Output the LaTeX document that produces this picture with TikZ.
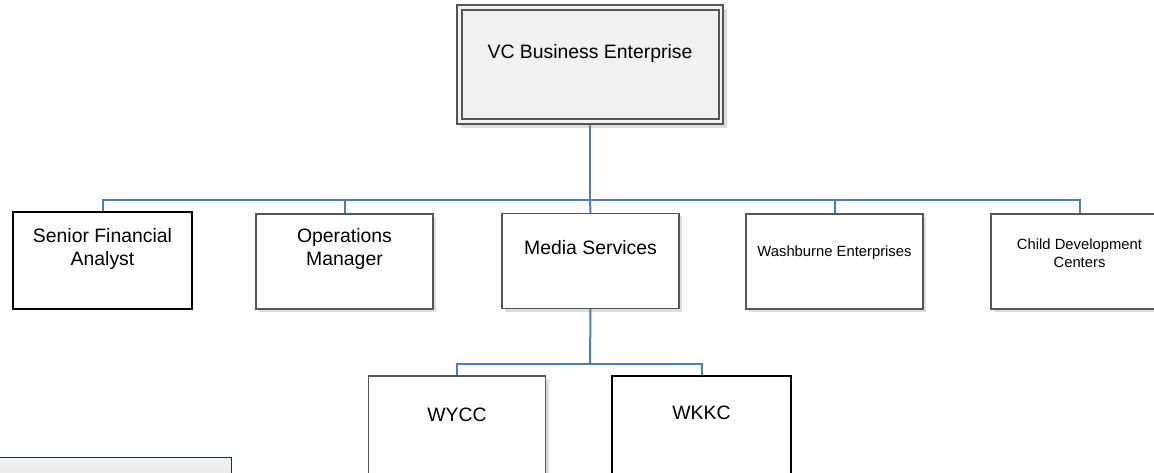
\documentclass[tikz,border=0pt]{standalone}
\usepackage{fontspec}
\setmainfont{Liberation Sans}
\usetikzlibrary{calc}
\definecolor{linkblue}{HTML}{4A7EBB}
\definecolor{boxgray}{HTML}{555555}
\definecolor{shadowgray}{HTML}{DDDDDD}
\definecolor{topfill}{HTML}{F1F1F1}
\definecolor{navy}{HTML}{1F2A3A}
\tikzset{
  link/.style={draw=linkblue, line width=2pt},
  thickbox/.style={draw=black, line width=1.6pt, fill=white, minimum width=179pt, minimum height=97pt, inner sep=0pt},
  graybox/.style={draw=boxgray, line width=1.1pt, fill=white, minimum width=177pt, minimum height=95pt, inner sep=0pt},
  shadowbox/.style={fill=shadowgray, draw=none, minimum width=177pt, minimum height=95pt, inner sep=0pt},
  bigtext/.style={font=\fontsize{19.4}{23}\selectfont, align=center, inner sep=0pt},
  smalltext/.style={font=\fontsize{14.8}{18}\selectfont, align=center, inner sep=0pt},
}
\begin{document}
\begin{tikzpicture}[x=1pt,y=-1pt]
\useasboundingbox (0,0) rectangle (1154,473);
% top box
\fill[shadowgray] (461,9) rectangle (727,128);
\node[draw=boxgray, line width=1.1pt, fill=topfill, minimum width=266pt, minimum height=119pt, inner sep=0pt] (top) at (590,64.5) {};
\node[draw=boxgray, line width=1.1pt, minimum width=257pt, minimum height=109pt, inner sep=0pt] (topin) at (590.5,64.5) {};
\node[bigtext] (topt) at (590,53) {VC Business Enterprise};
% second level
\node[thickbox] (sfa) at (102.5,260.5) {};
\node[bigtext] (sfat) at (102.5,249) {Senior Financial\\Analyst};
\node[shadowbox] at (347.5,264.5) {};
\node[graybox] (ops) at (344.5,261.5) {};
\node[bigtext] (opst) at (344.5,249) {Operations\\Manager};
\node[shadowbox] at (593.5,264) {};
\node[graybox] (med) at (590.5,261) {};
\node[bigtext] (medt) at (590.5,248) {Media Services};
\node[shadowbox] at (837.5,264.5) {};
\node[graybox] (wash) at (834.5,261.5) {};
\node[smalltext] (washt) at (834.5,253) {Washburne Enterprises};
\node[shadowbox] at (1082.5,264.5) {};
\node[graybox] (child) at (1079.5,261.5) {};
\node[smalltext] (childt) at (1079.5,253) {Child Development\\Centers};
% third level
\node[shadowbox, minimum height=110pt] at (460,434.5) {};
\node[graybox, minimum height=110pt] (wycc) at (457,431) {};
\node[bigtext] (wycct) at (457,415) {WYCC};
\node[thickbox, minimum height=110pt] (wkkc) at (701.5,431) {};
\node[bigtext] (wkkct) at (701.5,413) {WKKC};
% bottom-left box
\node[draw=navy, line width=1.2pt, top color=white!88!gray, bottom color=white!80!gray, minimum width=250pt, minimum height=40pt, inner sep=0pt, anchor=north east] (bl) at (232,457) {};
% connectors
\coordinate (bus) at (590,200);
\coordinate (sub) at (590,364);
\draw[link] (top.south) -- (bus);
\draw[link] (bus) -| (sfa.north);
\draw[link] (bus) -| (ops.north);
\draw[link] (bus) -- (med.north);
\draw[link] (bus) -| (wash.north);
\draw[link] (bus) -| (child.north);
\draw[link] (med.south) -- (sub);
\draw[link] (sub) -| (wycc.north);
\draw[link] (sub) -| (wkkc.north);
\end{tikzpicture}
\end{document}
